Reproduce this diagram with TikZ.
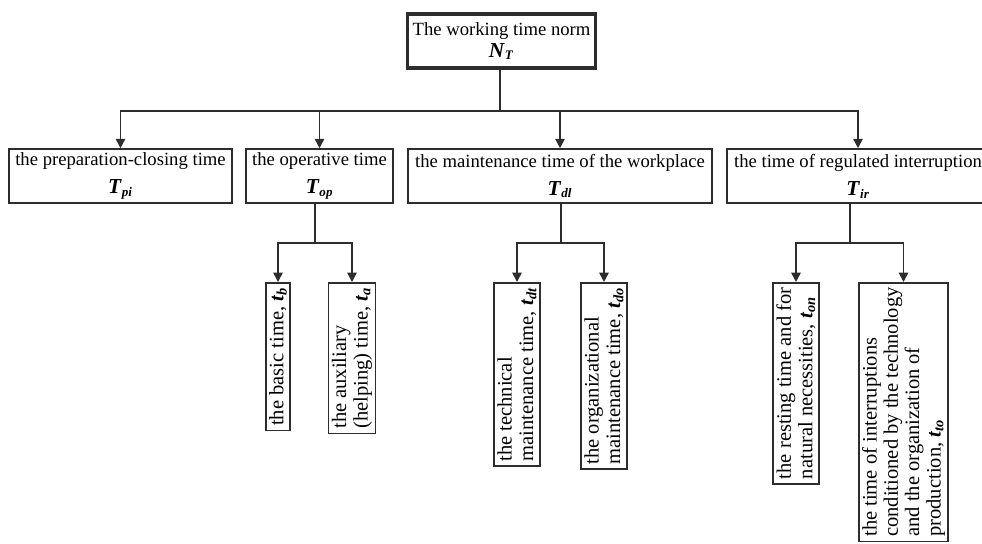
\documentclass[tikz,border=0pt]{standalone}
\usepackage{fontspec}
\setmainfont{Liberation Serif}
\usetikzlibrary{arrows.meta, positioning}
\definecolor{linegray}{RGB}{45,45,45}
\newcommand{\bigsym}[2]{{\fontsize{16}{16}\selectfont\textbf{\textit{#1}}}\textsubscript{\textbf{\textit{#2}}}}
\newcommand{\smallsym}[2]{\textbf{\textit{#1}}\textsubscript{\textbf{\textit{#2}}}}
\tikzset{
  box/.style={draw=linegray, line width=1.2pt, fill=white, align=center,
    inner xsep=3pt, inner ysep=2pt, minimum height=40.5pt,
    font=\fontsize{14}{21}\selectfont},
  topbox/.style={box, line width=2.6pt, font=\fontsize{14}{16.5}\selectfont},
  vbox/.style={draw=linegray, line width=1.2pt, fill=white, rotate=90,
    align=left, anchor=east, inner xsep=3.5pt, inner ysep=2.5pt,
    font=\fontsize{15.4}{16}\selectfont},
  link/.style={draw=linegray, line width=1.2pt},
  arr/.style={link, -{Triangle[length=7pt,width=7pt]}}
}
\begin{document}
\begin{tikzpicture}[x=0.75pt, y=-0.75pt]
\useasboundingbox (0,0) rectangle (982,543);
\clip (0,0) rectangle (982,543);

% top
\node[topbox, minimum width=141pt] (norm) at (501.5,41) {The working time norm\\\bigsym{N}{T}};

% first level
\node[box, minimum width=167pt] (prep) at (120.5,176) {the preparation-closing time\\\bigsym{T}{pi}};
\node[box, minimum width=110pt] (oper) at (319.5,176) {the operative time\\\bigsym{T}{op}};
\node[box, minimum width=228pt] (maint) at (560,176) {the maintenance time of the workplace\\\bigsym{T}{dl}};
\node[box, minimum width=196.5pt] (inter) at (858,176) {the time of regulated interruption\\\bigsym{T}{ir}};

% second level
\node[vbox] (basic) at (278,282) {the basic time, \smallsym{t}{b}};
\node[vbox] (aux) at (352,282) {the auxiliary\\(helping) time, \smallsym{t}{a}};
\node[vbox] (tech) at (517,282) {the technical\\maintenance time, \smallsym{t}{dt}};
\node[vbox] (orga) at (604,282) {the organizational\\maintenance time, \smallsym{t}{do}};
\node[vbox] (rest) at (796,282) {the resting time and for\\natural necessities, \smallsym{t}{on}};
\node[vbox] (cond) at (903.5,282) {the time of interruptions\\conditioned by the technology\\and the organization of\\production, \smallsym{t}{to}};

\coordinate (bus) at (500,111);
\coordinate (opfork) at (315,243);
\coordinate (mafork) at (561,243);
\coordinate (infork) at (850,243);

\draw[link] (norm.south -| bus) -- (bus);
\draw[arr] (bus) -| (prep.north);
\draw[arr] (bus) -| (oper.north);
\draw[arr] (bus) -| (maint.north);
\draw[arr] (bus) -| (inter.north);

\draw[link] (oper.south -| opfork) -- (opfork);
\draw[arr] (opfork) -| (basic.east);
\draw[arr] (opfork) -| (aux.east);

\draw[link] (maint.south -| mafork) -- (mafork);
\draw[arr] (mafork) -| (tech.east);
\draw[arr] (mafork) -| (orga.east);

\draw[link] (inter.south -| infork) -- (infork);
\draw[arr] (infork) -| (rest.east);
\draw[arr] (infork) -| (cond.east);
\end{tikzpicture}
\end{document}
